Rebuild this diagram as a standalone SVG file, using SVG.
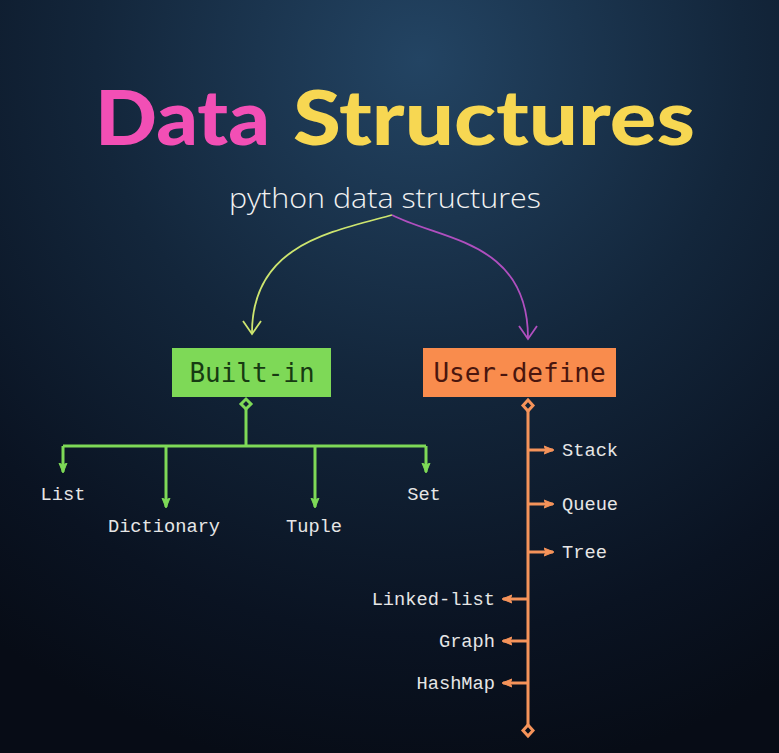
<svg xmlns="http://www.w3.org/2000/svg" width="779" height="753" viewBox="0 0 779 753">
<defs>
<radialGradient id="bg" cx="420" cy="60" r="720" gradientUnits="userSpaceOnUse">
<stop offset="0" stop-color="#234463"/>
<stop offset="0.45" stop-color="#13263b"/>
<stop offset="0.8" stop-color="#0a1322"/>
<stop offset="1" stop-color="#070c16"/>
</radialGradient>
<marker id="ga" viewBox="0 0 10 10" refX="9" refY="5" markerWidth="10" markerHeight="10" markerUnits="userSpaceOnUse" orient="auto">
<path d="M0,1 L10,5 L0,9 L2,5 Z" fill="#7ed957" stroke="#7ed957" stroke-linejoin="round"/>
</marker>
<marker id="oa" viewBox="0 0 10 10" refX="9" refY="5" markerWidth="10" markerHeight="10" markerUnits="userSpaceOnUse" orient="auto">
<path d="M0,1 L10,5 L0,9 L2,5 Z" fill="#f5935a" stroke="#f5935a" stroke-linejoin="round"/>
</marker>
</defs>
<style>
.title{font-family:Lato,"Open Sans",sans-serif;font-weight:900;font-size:76px}
.sub{font-family:"Open Sans","Noto Sans",sans-serif;font-weight:300;font-size:28px;fill:#f2f2f2}
.box{font-family:"DejaVu Sans Mono","Liberation Mono",monospace;font-size:26px;text-anchor:middle}
.lbl{font-family:"Liberation Mono","DejaVu Sans Mono",monospace;font-size:18.7px;fill:#e6e6e6}
.g{stroke:#7ed957;stroke-width:3;fill:none}
.o{stroke:#f5935a;stroke-width:3;fill:none}
</style>
<rect width="779" height="753" fill="url(#bg)"/>
<g id="title">
<text class="title" x="95" y="145" fill="#f24fb5" textLength="175" lengthAdjust="spacingAndGlyphs">Data</text>
<text class="title" x="293" y="145" fill="#f7d752" textLength="402" lengthAdjust="spacingAndGlyphs">Structures</text>
</g>
<g id="root">
<text class="sub" x="229" y="208" textLength="312" lengthAdjust="spacingAndGlyphs">python data structures</text>
</g>
<g id="builtin">
<rect x="172" y="348" width="159" height="49" fill="#7ed957"/>
<text class="box" x="252" y="382" fill="#173a12">Built-in</text>
</g>
<g id="userdefine">
<rect x="423" y="348" width="193" height="49" fill="#f98c4d"/>
<text class="box" x="519.5" y="382" fill="#4a160e">User-define</text>
</g>
<g id="connectors">
<path d="M392,215 C330,232 252,245 252,333" stroke="#cde56f" stroke-width="1.8" fill="none"/>
<path d="M243,321 L252,334 L261,321" stroke="#cde56f" stroke-width="1.8" fill="none"/>
<path d="M392,215 C440,240 528,240 528,338" stroke="#b04fbf" stroke-width="1.8" fill="none"/>
<path d="M519,326 L528,339 L537,326" stroke="#b04fbf" stroke-width="1.8" fill="none"/>
<path class="g" d="M246,409 V446 M63,446 H426"/>
<path class="g" d="M246,399 L251,404 L246,409 L241,404 Z" fill="#13263b"/>
<path class="g" d="M63,446 V472" marker-end="url(#ga)"/>
<path class="g" d="M166,446 V507" marker-end="url(#ga)"/>
<path class="g" d="M315,446 V507" marker-end="url(#ga)"/>
<path class="g" d="M426,446 V472" marker-end="url(#ga)"/>
<path class="o" d="M528,411 V725"/>
<path class="o" d="M528,400 L533,405.5 L528,411 L523,405.5 Z" fill="#13263b"/>
<path class="o" d="M528,725 L533,730.5 L528,736 L523,730.5 Z" fill="#0a1220"/>
<path class="o" d="M528,450 H553" marker-end="url(#oa)"/>
<path class="o" d="M528,504 H553" marker-end="url(#oa)"/>
<path class="o" d="M528,552 H553" marker-end="url(#oa)"/>
<path class="o" d="M528,599 H503" marker-end="url(#oa)"/>
<path class="o" d="M528,641 H503" marker-end="url(#oa)"/>
<path class="o" d="M528,683 H503" marker-end="url(#oa)"/>
</g>
<g id="list"><text class="lbl" x="63" y="500" text-anchor="middle">List</text></g>
<g id="dictionary"><text class="lbl" x="164" y="532" text-anchor="middle">Dictionary</text></g>
<g id="tuple"><text class="lbl" x="314" y="532" text-anchor="middle">Tuple</text></g>
<g id="set"><text class="lbl" x="424" y="500" text-anchor="middle">Set</text></g>
<g id="stack"><text class="lbl" x="562" y="456">Stack</text></g>
<g id="queue"><text class="lbl" x="562" y="510">Queue</text></g>
<g id="tree"><text class="lbl" x="562" y="558">Tree</text></g>
<g id="linkedlist"><text class="lbl" x="495" y="605" text-anchor="end">Linked-list</text></g>
<g id="graph"><text class="lbl" x="495" y="647" text-anchor="end">Graph</text></g>
<g id="hashmap"><text class="lbl" x="495" y="689" text-anchor="end">HashMap</text></g>
</svg>
